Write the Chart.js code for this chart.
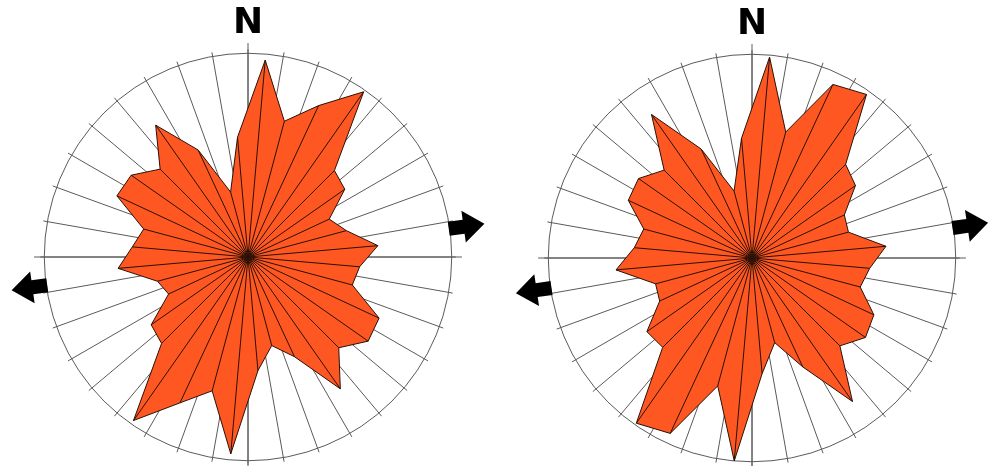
<!DOCTYPE html>
<html>
<head>
<meta charset="utf-8">
<script src="https://cdn.jsdelivr.net/npm/chart.js@4.4.1/dist/chart.umd.min.js"></script>
<style>
  html, body { margin: 0; padding: 0; background: #ffffff; }
  body { width: 989px; height: 466px; overflow: hidden; position: relative; }
  .rose { position: absolute; width: 510px; height: 510px; }
  #roseWest { left: -7px; top: -21px; }
  #roseEast { left: 497px; top: -20px; }
</style>
</head>
<body>
<div class="rose" id="roseWest"><canvas id="chartWest"></canvas></div>
<div class="rose" id="roseEast"><canvas id="chartEast"></canvas></div>
<script>
// Sector centres, degrees clockwise from north (10-degree bins)
const binAzimuths = [5, 15, 25, 35, 45, 55, 65, 75, 85, 95, 105, 115, 125, 135, 145, 155, 165, 175,
                     185, 195, 205, 215, 225, 235, 245, 255, 265, 275, 285, 295, 305, 315, 325, 335, 345, 355];

// Relative frequency per sector (outer circle = 100)
const roseWestValues = [97, 69, 82, 99, 60, 58, 44, 50, 64, 55, 53, 71, 72, 63, 79, 54, 45, 56,
                        97, 68, 79, 98, 60, 58, 43, 46, 64, 57, 53, 71, 70, 61, 79, 58, 33, 59];
const roseEastValues = [99, 64, 94, 98, 65, 62, 50, 49, 66, 58, 55, 66, 68, 61, 86, 59, 43, 57,
                        100, 65, 95, 99, 62, 63, 50, 49, 67, 58, 55, 67, 68, 61, 86, 59, 34, 59];

// Azimuth of the extension arrows drawn outside each rose
const arrowAzimuthWest = 82;
const arrowAzimuthEast = 81.5;

const northLabel = 'N';
const OUTER_RING = 100;     // value of the drawn circle
const SCALE_MAX = 102;      // spokes overshoot the circle slightly
const CROSS_REACH = 105;    // N-S / E-W lines reach a bit further

const FILL = '#ff5722';
const EDGE = '#2a1006';
const SPOKE = '#5a5a5a';

// Build the 5-degree category table: sector boundaries carry no value,
// sector centres carry the frequency.
function buildTable(values) {
  const labels = [];
  const data = [];
  binAzimuths.forEach((az, i) => {
    labels.push(az - 5); data.push(null);
    labels.push(az);     data.push(values[i]);
  });
  return { labels, data };
}

const compassPlugin = {
  id: 'compass',
  beforeDatasetsDraw(chart) {
    const r = chart.scales.r;
    const ctx = chart.ctx;
    const n = chart.data.labels.length;
    ctx.save();
    ctx.strokeStyle = SPOKE;
    ctx.lineWidth = 1;
    [[0, n / 2], [n / 4, 3 * n / 4]].forEach(([a, b]) => {
      const p = r.getPointPositionForValue(a, CROSS_REACH);
      const q = r.getPointPositionForValue(b, CROSS_REACH);
      ctx.beginPath();
      ctx.moveTo(p.x, p.y);
      ctx.lineTo(q.x, q.y);
      ctx.stroke();
    });
    ctx.restore();
  },
  afterDatasetsDraw(chart, args, opts) {
    const r = chart.scales.r;
    const ctx = chart.ctx;
    const meta = chart.getDatasetMeta(0);
    // rays from the centre to each sector apex
    ctx.save();
    ctx.strokeStyle = EDGE;
    ctx.lineWidth = 1;
    meta.data.forEach(pt => {
      if (pt.skip) return;
      ctx.beginPath();
      ctx.moveTo(r.xCenter, r.yCenter);
      ctx.lineTo(pt.x, pt.y);
      ctx.stroke();
    });
    ctx.restore();

    // paired block arrows along the extension direction
    const base = r.getDistanceFromCenterForValue(OUTER_RING) - 1;
    [opts.azimuth, opts.azimuth + 180].forEach(az => {
      const t = az * Math.PI / 180;
      const ux = Math.sin(t), uy = -Math.cos(t);   // outward
      const vx = -uy, vy = ux;                      // across
      const pts = [[0, -7], [15, -7], [15, -16], [36, 0], [15, 16], [15, 7], [0, 7]];
      ctx.save();
      ctx.fillStyle = '#000';
      ctx.beginPath();
      pts.forEach(([u, v], i) => {
        const x = r.xCenter + ux * (base + u) + vx * v;
        const y = r.yCenter + uy * (base + u) + vy * v;
        if (i === 0) ctx.moveTo(x, y); else ctx.lineTo(x, y);
      });
      ctx.closePath();
      ctx.fill();
      ctx.restore();
    });
  }
};

function drawRose(canvasId, values, arrowAzimuth) {
  const table = buildTable(values);
  return new Chart(document.getElementById(canvasId), {
    type: 'radar',
    data: {
      labels: table.labels,
      datasets: [{
        data: table.data,
        spanGaps: true,
        fill: true,
        backgroundColor: FILL,
        borderColor: EDGE,
        borderWidth: 1,
        tension: 0,
        pointRadius: 0,
        pointHoverRadius: 0
      }]
    },
    options: {
      responsive: true,
      maintainAspectRatio: false,
      animation: false,
      events: [],
      layout: { padding: 0 },
      plugins: {
        legend: { display: false },
        tooltip: { enabled: false },
        compass: { azimuth: arrowAzimuth }
      },
      scales: {
        r: {
          min: 0,
          max: SCALE_MAX,
          startAngle: 0,
          afterBuildTicks: s => { s.ticks = [{ value: 0 }, { value: OUTER_RING }]; },
          ticks: { display: false },
          grid: { circular: true, color: SPOKE, lineWidth: 1 },
          angleLines: {
            display: true,
            color: SPOKE,
            lineWidth: c => (c.index % 2 === 0 ? 1 : 0)
          },
          pointLabels: {
            display: true,
            color: '#000',
            padding: c => (c.index === 0 ? 4 : 0),
            font: { family: 'DejaVu Sans', size: 36, weight: 'bold' },
            callback: v => (v === 0 ? northLabel : [])
          }
        }
      }
    },
    plugins: [compassPlugin]
  });
}

drawRose('chartWest', roseWestValues, arrowAzimuthWest);
drawRose('chartEast', roseEastValues, arrowAzimuthEast);
</script>
</body>
</html>
